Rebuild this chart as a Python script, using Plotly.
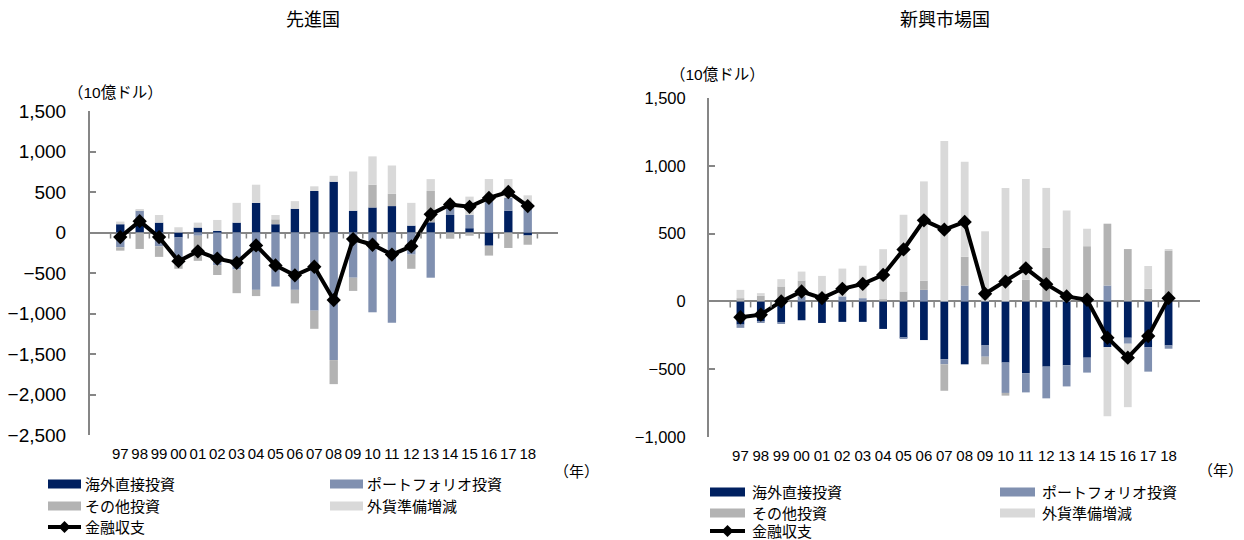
import plotly.graph_objects as go

# 年 (97 = 1997 ... 18 = 2018)
years = ["97", "98", "99", "00", "01", "02", "03", "04", "05", "06", "07",
         "08", "09", "10", "11", "12", "13", "14", "15", "16", "17", "18"]

# 先進国 (10億ドル)
adv_fdi = [102, 90, 122, -61, 61, 20, 122, 366, 102, 293, 513,
           627, 269, 309, 326, 85, 126, 216, 53, -163, 269, -37]
adv_portfolio = [-183, 180, -171, -334, -40, -403, -456, -708, -667, -708, -965,
                 -1575, -558, -985, -1115, -273, -558, 90, 165, 387, 159, 317]
adv_other = [-41, -203, -130, -53, -310, -122, -293, -77, 61, -167, -224,
             -297, -163, 281, 151, -175, 387, -77, -40, -122, -191, -114]
adv_reserves = [33, 20, 94, 65, 61, 135, 244, 224, 53, 94, 57,
                73, 484, 350, 350, 281, 146, 30, 225, 273, 232, 142]
adv_balance = [-57, 140, -57, -354, -232, -322, -374, -159, -407, -529, -423,
               -834, -81, -151, -273, -171, 224, 346, 317, 427, 500, 326]

# 新興市場国 (10億ドル)
emg_fdi = [-171, -146, -154, -139, -159, -151, -151, -203, -268, -285, -427,
           -464, -325, -451, -529, -481, -471, -415, -337, -268, -337, -325]
emg_portfolio = [-24, -12, -12, 37, 0, 37, 24, 0, -7, 85, -37,
                 117, -83, -224, -142, -234, -156, -110, 117, -44, -181, -24]
emg_other = [24, 41, 110, 117, 61, 0, 0, 17, 73, 68, -195,
             212, -56, -20, 159, 395, 0, 407, 456, 386, 93, 373]
emg_reserves = [61, 20, 54, 66, 127, 205, 239, 368, 566, 732, 1183,
                700, 517, 837, 744, 442, 671, 129, -510, -468, 168, 12]
emg_balance = [-117, -98, 0, 73, 24, 93, 129, 195, 383, 598, 529,
               586, 56, 146, 244, 127, 37, 12, -268, -415, -256, 24]

series_names = ["海外直接投資", "ポートフォリオ投資", "その他投資", "外貨準備増減"]
series_colors = ["#002060", "#8090B0", "#B3B3B3", "#D9D9D9"]
line_name = "金融収支"

FONT = "Liberation Sans, Arial, Noto Sans CJK JP, sans-serif"
AXIS_GRAY = "#868686"
W, H = 1244, 540


def px_x(p):
    return p / W


def px_y(p):
    return 1 - p / H


fig = go.Figure()


def add_panel(xa, ya, bar_series, balance, bar_width):
    for name, color, vals in zip(series_names, series_colors, bar_series):
        fig.add_trace(go.Bar(
            x=years, y=vals, name=name, marker_color=color,
            marker_line_width=0, width=bar_width,
            xaxis=xa, yaxis=ya))
    fig.add_trace(go.Scatter(
        x=years, y=balance, name=line_name, mode="lines+markers",
        line=dict(color="black", width=4),
        marker=dict(symbol="diamond", size=11, color="black"),
        xaxis=xa, yaxis=ya))


add_panel("x", "y", [adv_fdi, adv_portfolio, adv_other, adv_reserves],
          adv_balance, 0.43)
add_panel("x2", "y2", [emg_fdi, emg_portfolio, emg_other, emg_reserves],
          emg_balance, 0.38)

x_common = dict(type="category", categoryorder="array", categoryarray=years,
                showline=False, showgrid=False, zeroline=False,
                ticks="outside", ticklen=5, tickcolor="rgba(0,0,0,0)",
                tickfont=dict(family=FONT, size=15, color="black"))

y_common = dict(showgrid=False, showline=True, linecolor=AXIS_GRAY, linewidth=2,
                ticks="inside", ticklen=6, tickwidth=2, tickcolor=AXIS_GRAY,
                zeroline=True, zerolinecolor=AXIS_GRAY, zerolinewidth=2,
                tickformat=",d", ticklabelstandoff=18)

fig.update_layout(
    width=W, height=H,
    margin=dict(l=0, r=0, t=0, b=0, autoexpand=False),
    paper_bgcolor="white", plot_bgcolor="white",
    barmode="relative", showlegend=False,
    font=dict(family=FONT, color="black"),
    xaxis=dict(domain=[px_x(90), px_x(558)], anchor="y", **x_common),
    yaxis=dict(domain=[px_y(435), px_y(111)], anchor="x", range=[-2500, 1500],
               dtick=500, tickfont=dict(family=FONT, size=19), **y_common),
    xaxis2=dict(domain=[px_x(709), px_x(1200)], anchor="y2", **x_common),
    yaxis2=dict(domain=[px_y(437), px_y(98)], anchor="x2", range=[-1000, 1500],
                dtick=500, tickfont=dict(family=FONT, size=16.5), **y_common),
)

shapes = []
# small tick marks on the zero line, between categories
for xa, ya in (("x", "y"), ("x2", "y2")):
    for k in range(len(years) + 1):
        shapes.append(dict(type="line", xref=xa, yref=ya,
                           x0=k - 0.5, x1=k - 0.5,
                           ysizemode="pixel", yanchor=0, y0=0, y1=-6,
                           line=dict(color=AXIS_GRAY, width=1.5)))


def label(text, x, y, size=15, xanchor="left"):
    return dict(text=text, x=px_x(x), y=px_y(y), xref="paper", yref="paper",
                xanchor=xanchor, yanchor="middle", showarrow=False,
                font=dict(family=FONT, size=size))


annotations = [
    label("先進国", 313, 20, 18, "center"),
    label("新興市場国", 945, 20, 18, "center"),
    label("（10億ドル）", 66, 92, 15.5),
    label("（10億ドル）", 668, 75, 15.5),
    label("（年）", 552, 471),
    label("（年）", 1196, 470),
]


# legends: two columns of swatch + label, then the balance line entry
def add_legend(col_x, sw_w, rows_y, text_gap):
    slots = [(0, 0), (1, 0), (0, 1), (1, 1)]
    for (c, r), name, color in zip(slots, series_names, series_colors):
        x0 = col_x[c]
        y = rows_y[r]
        shapes.append(dict(type="rect", xref="paper", yref="paper",
                           x0=px_x(x0), x1=px_x(x0 + sw_w),
                           y0=px_y(y + 4.5), y1=px_y(y - 4.5),
                           fillcolor=color, line=dict(width=0)))
        annotations.append(label(name, x0 + sw_w + text_gap, y))
    x0 = col_x[0]
    y = rows_y[2]
    shapes.append(dict(type="line", xref="paper", yref="paper",
                       x0=px_x(x0), x1=px_x(x0 + sw_w),
                       y0=px_y(y), y1=px_y(y),
                       line=dict(color="black", width=4)))
    cx, d = x0 + sw_w / 2, 6
    shapes.append(dict(type="path", xref="paper", yref="paper",
                       path=(f"M{px_x(cx - d)},{px_y(y)} L{px_x(cx)},{px_y(y - d)} "
                             f"L{px_x(cx + d)},{px_y(y)} L{px_x(cx)},{px_y(y + d)} Z"),
                       fillcolor="black", line=dict(width=0)))
    annotations.append(label(line_name, x0 + sw_w + text_gap, y))


add_legend([48, 330], 33, [484, 506, 527], 2)
add_legend([710, 1000], 35, [492, 513, 531], 5)

fig.update_layout(shapes=shapes, annotations=annotations)

fig.write_html("out.html")
